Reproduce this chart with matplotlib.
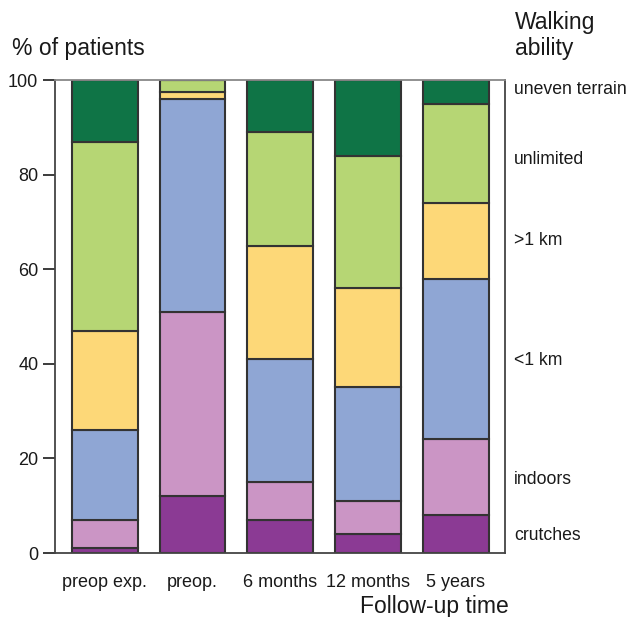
import matplotlib.pyplot as plt
import numpy as np

plt.rcParams['font.family'] = ['Liberation Sans', 'DejaVu Sans']

times = ["preop exp.", "preop.", "6 months", "12 months", "5 years"]
levels = ["crutches", "indoors", "<1 km", ">1 km", "unlimited", "uneven terrain"]

# cumulative tops (%), bottom -> top
crutches = [1, 12, 7, 4, 8]
indoors = [7, 51, 15, 11, 24]
below_1km = [26, 96, 41, 35, 58]
above_1km = [47, 97.5, 65, 56, 74]
unlimited = [87, 100, 89, 84, 95]
uneven = [100, 100, 100, 100, 100]

label_y = [3.8, 15.6, 40.8, 66, 83.3, 97.9]

colours = ["#8b3a94", "#cb95c5", "#8fa6d4", "#fdd878", "#b6d674", "#0f7446"]

tops = np.array([crutches, indoors, below_1km, above_1km, unlimited, uneven])
bottoms = np.vstack([np.zeros(len(times)), tops[:-1]])

fig = plt.figure(figsize=(6.31, 6.17), dpi=100)
ax = fig.add_axes([0.0872, 0.1037, 0.7132, 0.7666])

x = np.arange(len(times))
for i in range(len(levels)):
    ax.bar(x, tops[i] - bottoms[i], bottom=bottoms[i], width=0.75,
           color=colours[i], edgecolor="#333333", linewidth=1.5, zorder=2)

ax.set_xlim(-0.565, 4.56)
ax.set_ylim(0, 100)
ax.set_yticks([0, 20, 40, 60, 80, 100])
ax.set_xticks(x)
ax.set_xticklabels(times, fontsize=13, color="#1a1a1a")
ax.tick_params(axis="x", length=0, pad=15)
ax.tick_params(axis="y", length=9, width=1.2, labelsize=13, colors="#1a1a1a", pad=3)
for s in ax.spines.values():
    s.set_color("#444444")
    s.set_linewidth(1.3)
ax.spines["top"].set_color("#888888")

for name, yv in zip(levels, label_y):
    ax.text(4.66, yv, name, fontsize=12.7, color="#1a1a1a", va="center", ha="left",
            clip_on=False)

fig.text(0.019, 0.922, "% of patients", fontsize=16.5, color="#1a1a1a", va="center")
fig.text(0.816, 0.964, "Walking", fontsize=16.5, color="#1a1a1a", va="center")
fig.text(0.816, 0.922, "ability", fontsize=16.5, color="#1a1a1a", va="center")
fig.text(0.688, 0.017, "Follow-up time", fontsize=16.5, color="#1a1a1a",
         ha="center", va="center")

plt.savefig("out.png", dpi=100)
